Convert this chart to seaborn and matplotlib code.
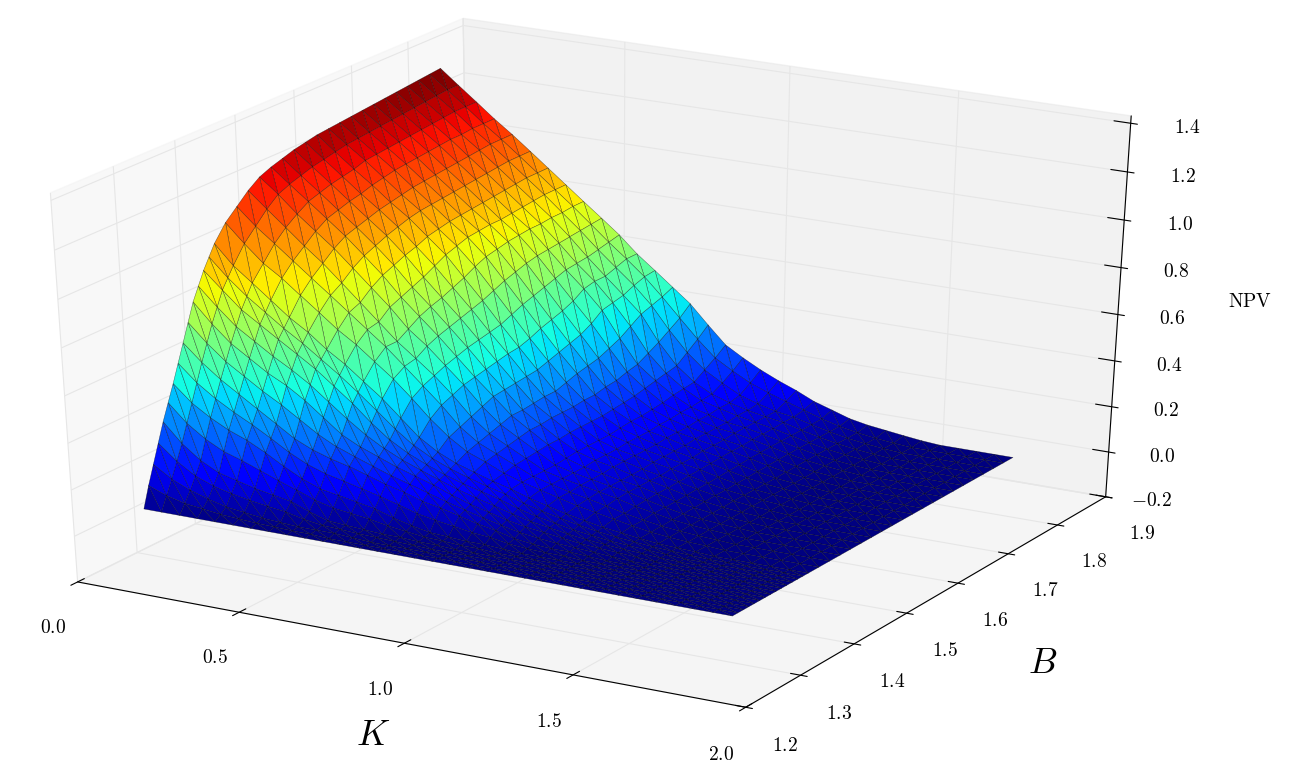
import matplotlib
matplotlib.use('Agg')
import matplotlib.pyplot as plt
import numpy as np
import seaborn as sns

# grid of the surface
K = [.03, .085, .141, .196, .251, .307, .362, .417, .472, .528, .583, .638, .694, .749, .804, .86, .915,
     .97, 1.025, 1.081, 1.136, 1.191, 1.247, 1.302, 1.357, 1.413, 1.468, 1.523, 1.578, 1.634, 1.689, 1.744, 1.80]
B = [1.30, 1.31, 1.32, 1.33, 1.34, 1.35, 1.36, 1.37, 1.38, 1.39, 1.40, 1.41, 1.42, 1.43, 1.44,
     1.46, 1.48, 1.50, 1.52, 1.54, 1.56, 1.58, 1.60, 1.62, 1.64, 1.66, 1.68, 1.70, 1.72, 1.74,
     1.76, 1.78, 1.80, 1.82, 1.84]

# one row per B, values along K (rest of a row is flat at zero)
npv_rows = [
    [0.00],
    [.09, .06, .04, .03, .02, .015, .01, .008, .005, .005],
    [.17, .12, .085, .06, .04, .03, .02, .015, .01, .01, .01, .005],
    [.25, .185, .135, .105, .085, .07, .058, .048, .03, .018, .015, .01, .008, .005, .003],
    [.33, .25, .19, .15, .13, .11, .095, .08, .05, .025, .02, .015, .01, .01, .005, .005],
    [.40, .325, .27, .23, .205, .175, .145, .118, .088, .068, .058, .048, .033, .023, .013, .01, .005, .005],
    [.47, .40, .35, .31, .28, .24, .195, .155, .125, .11, .095, .08, .055, .035, .02, .015, .01, .01, .005],
    [.545, .475, .42, .375, .335, .29, .243, .205, .178, .16, .14, .12, .098, .075, .06, .048, .035, .028, .015, .008, .005, .005],
    [.62, .55, .49, .44, .39, .34, .29, .255, .23, .21, .185, .16, .14, .115, .10, .08, .06, .045, .025, .015, .01, .01, .005],
    [.695, .62, .555, .505, .455, .41, .36, .31, .27, .24, .212, .185, .162, .138, .115, .093, .073, .055, .038, .028, .02, .015, .01, .005],
    [.77, .69, .62, .57, .52, .48, .43, .37, .31, .27, .24, .21, .185, .16, .13, .105, .085, .065, .05, .04, .03, .02, .015, .01, .005],
    [.825, .75, .68, .63, .58, .535, .485, .425, .365, .31, .265, .228, .198, .17, .143, .12, .10, .078, .06, .048, .035, .025, .018, .012, .008, .003],
    [.88, .81, .74, .69, .64, .59, .54, .48, .42, .35, .29, .245, .21, .18, .155, .135, .115, .09, .07, .055, .04, .03, .02, .015, .01, .005],
    [.925, .85, .785, .73, .675, .625, .57, .515, .455, .39, .325, .268, .225, .193, .168, .145, .125, .10, .08, .063, .048, .035, .025, .018, .011, .007, .003],
    [.97, .89, .83, .77, .71, .66, .60, .55, .49, .43, .36, .29, .24, .205, .18, .155, .135, .11, .09, .07, .055, .04, .03, .02, .012, .008, .005],
    [1.035, .96, .89, .84, .78, .72, .66, .61, .55, .49, .42, .345, .28, .23, .20, .165, .14, .12, .10, .08, .065, .05, .035, .022, .014, .008, .005],
    [1.08, 1.01, .95, .89, .83, .77, .71, .65, .59, .52, .45, .38, .30, .245, .21, .175, .14, .12, .10, .085, .068, .05, .035, .023, .015, .009, .005],
    [1.125, 1.06, .995, .93, .87, .80, .73, .66, .59, .53, .47, .40, .32, .26, .22, .18, .14, .12, .105, .09, .075, .055, .04, .025, .016, .01, .005],
    [1.16, 1.10, 1.03, .97, .91, .84, .77, .70, .62, .56, .49, .42, .34, .275, .23, .185, .14, .12, .105, .09, .078, .058, .04, .025, .016, .01, .005],
    [1.18, 1.12, 1.06, 1.00, .94, .87, .80, .72, .65, .58, .505, .43, .36, .29, .24, .19, .145, .12, .105, .09, .078, .06, .04, .027, .017, .01, .005],
    [1.195, 1.135, 1.075, 1.015, .955, .89, .82, .74, .67, .595, .52, .44, .365, .29, .24, .19, .15, .125, .11, .09, .078, .06, .042, .028, .018, .01, .005],
    [1.21, 1.15, 1.09, 1.03, .97, .91, .84, .76, .685, .61, .53, .45, .37, .295, .245, .195, .15, .125, .11, .09, .075, .062, .044, .03, .02, .012, .006],
    [1.22, 1.16, 1.10, 1.04, .985, .925, .855, .785, .705, .625, .54, .46, .375, .30, .245, .195, .15, .125, .11, .095, .08, .064, .045, .03, .02, .012, .006],
    [1.23, 1.17, 1.11, 1.055, .995, .94, .875, .81, .725, .64, .55, .465, .38, .30, .245, .195, .15, .13, .11, .095, .08, .066, .047, .032, .02, .012, .006],
    [1.235, 1.18, 1.125, 1.065, 1.005, .95, .885, .825, .75, .66, .57, .48, .395, .315, .25, .195, .155, .13, .11, .095, .08, .068, .05, .033, .02, .012, .006],
    [1.24, 1.185, 1.13, 1.075, 1.015, .955, .895, .84, .77, .68, .59, .50, .41, .33, .25, .20, .16, .13, .115, .095, .085, .07, .052, .035, .02, .012, .006],
    [1.245, 1.19, 1.135, 1.08, 1.02, .96, .90, .845, .78, .695, .605, .515, .425, .34, .26, .205, .16, .135, .115, .10, .085, .072, .055, .037, .022, .012, .006],
    [1.25, 1.195, 1.14, 1.085, 1.025, .965, .905, .85, .79, .71, .62, .53, .44, .35, .265, .21, .165, .135, .115, .10, .085, .072, .056, .038, .023, .013, .006],
    [1.255, 1.20, 1.145, 1.09, 1.03, .97, .91, .85, .795, .72, .635, .55, .465, .37, .28, .22, .17, .14, .12, .10, .09, .075, .057, .04, .024, .014, .006],
    [1.26, 1.205, 1.15, 1.095, 1.035, .975, .915, .855, .80, .725, .65, .58, .50, .39, .29, .23, .18, .14, .12, .10, .09, .075, .058, .04, .025, .014, .006],
    [1.265, 1.21, 1.155, 1.10, 1.04, .98, .92, .86, .80, .73, .655, .59, .51, .42, .315, .24, .185, .145, .125, .105, .09, .075, .058, .04, .025, .014, .006],
    [1.27, 1.215, 1.16, 1.10, 1.045, .985, .925, .865, .805, .735, .66, .59, .52, .45, .34, .25, .19, .15, .125, .105, .09, .078, .058, .04, .025, .014, .006],
    [1.275, 1.22, 1.165, 1.105, 1.05, .99, .93, .87, .805, .74, .67, .605, .54, .465, .37, .285, .22, .175, .135, .11, .09, .078, .058, .04, .025, .014, .006],
    [1.28, 1.225, 1.165, 1.105, 1.05, .99, .93, .87, .81, .745, .68, .62, .555, .48, .40, .32, .25, .205, .165, .135, .11, .085, .06, .04, .025, .014, .006],
    [1.285, 1.225, 1.165, 1.105, 1.05, .99, .93, .87, .81, .75, .69, .62, .56, .50, .44, .36, .285, .24, .20, .165, .135, .10, .075, .05, .035, .025, .015, .006],
]

k_ticks = [0.0, 0.5, 1.0, 1.5, 2.0]
b_ticks = [1.2, 1.3, 1.4, 1.5, 1.6, 1.7, 1.8, 1.9]
npv_ticks = [-0.2, 0.0, 0.2, 0.4, 0.6, 0.8, 1.0, 1.2, 1.4]

sns.set_style('ticks')
plt.rcParams['mathtext.fontset'] = 'cm'
plt.rcParams['grid.color'] = '0.9'
plt.rcParams['xtick.major.width'] = 0.8
plt.rcParams['ytick.major.width'] = 0.8
plt.rcParams['axes.edgecolor'] = 'black'
plt.rcParams['xtick.color'] = 'black'
plt.rcParams['ytick.color'] = 'black'
plt.rcParams['text.color'] = 'black'

npv = np.array([r + [0.0] * (len(K) - len(r)) for r in npv_rows])
kk, bb = np.meshgrid(K, B)

# same diagonal in every cell, so the colour bands stay clean
nk = len(K)
nb = len(B)
tris = []
for j in range(nb - 1):
    for i in range(nk - 1):
        a = j * nk + i
        tris.append([a, a + 1, a + nk])
        tris.append([a + 1, a + nk + 1, a + nk])

fig = plt.figure(figsize=(12.91, 7.73), dpi=100)
ax = fig.add_axes([-0.103, 0.0, 1.105, 1.063], projection='3d')
ax.set_box_aspect((1, 1, 1), zoom=0.909)
# stretch the box to the whole figure, not a square
ax.apply_aspect = lambda position=None: None
ax.view_init(elev=30, azim=-60)

ax.plot_trisurf(kk.ravel(), bb.ravel(), npv.ravel(), triangles=tris, cmap='jet',
                linewidth=0.35, edgecolor=(0, 0, 0, 0.55), antialiased=True)

ax.set_xlim(0, 2)
ax.set_ylim(1.2, 1.9)
ax.set_zlim(-0.2, 1.43)
ax.set_xticks(k_ticks)
ax.set_yticks(b_ticks)
ax.set_zticks(npv_ticks)
ax.set_xticklabels(['$%.1f$' % v for v in k_ticks], fontsize=14)
ax.set_yticklabels(['$%.1f$' % v for v in b_ticks], fontsize=14)
ax.set_zticklabels(['$%.1f$' % v for v in npv_ticks], fontsize=14)
ax.grid(True)
ax.tick_params(axis='x', pad=18)
ax.tick_params(axis='y', pad=16)
ax.tick_params(axis='z', pad=20)
for lab in ax.zaxis.get_ticklabels():
    lab.set_ha('right')

ax.xaxis._axinfo['tick'].update(inward_factor=0.2, outward_factor=0.2)
ax.yaxis._axinfo['tick'].update(inward_factor=0.12, outward_factor=0.18)
ax.zaxis._axinfo['tick'].update(inward_factor=0.12, outward_factor=0.3)

fig.text(373 / 1291, 1 - 735 / 773, '$K$', fontsize=26, ha='center', va='center')
fig.text(1043 / 1291, 1 - 663 / 773, '$B$', fontsize=26, ha='center', va='center')
fig.text(1250 / 1291, 1 - 301 / 773, r'$\mathrm{NPV}$', fontsize=14, ha='center', va='center')

fig.savefig('out.png', dpi=100)
